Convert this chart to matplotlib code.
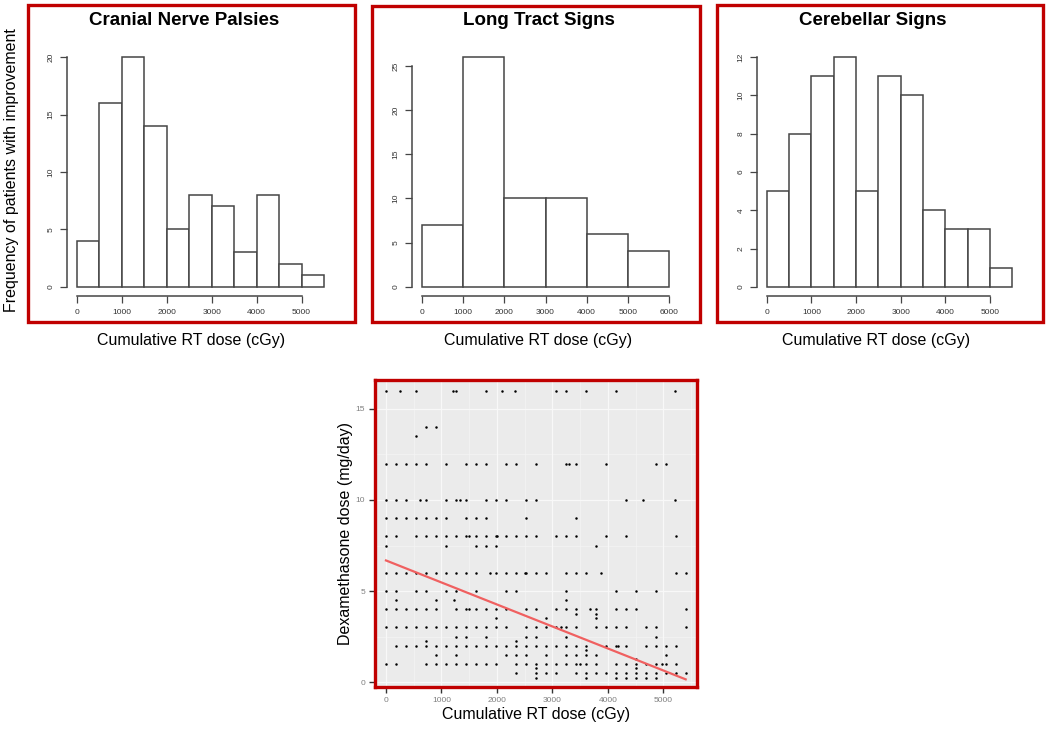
import numpy as np
import matplotlib
matplotlib.use("Agg")
import matplotlib.pyplot as plt
from matplotlib.patches import Rectangle

plt.rcParams['font.family'] = ['Liberation Sans', 'DejaVu Sans']

# --- histogram data (breaks in cGy, counts) ---
cranial_breaks = np.arange(0, 5501, 500)
cranial_counts = [4, 16, 20, 14, 5, 8, 7, 3, 8, 2, 1]

tract_breaks = np.arange(0, 6001, 1000)
tract_counts = [7, 26, 10, 10, 6, 4]

cereb_breaks = np.arange(0, 5501, 500)
cereb_counts = [5, 8, 11, 12, 5, 11, 10, 4, 3, 3, 1]

hist_titles = ["Cranial Nerve Palsies", "Long Tract Signs", "Cerebellar Signs"]

# --- scatter data: cumulative RT dose (cGy) at each dexamethasone level (mg/day) ---
dose_at_16 = [0, 250, 540, 1200, 1270, 1800, 2090, 2330, 3060, 3240, 3600, 4140, 5200]
dose_at_14 = [720, 900]
dose_at_13_5 = [540]
dose_at_12 = [0, 180, 360, 540, 720, 1080, 1440, 1620, 1800, 2160, 2340, 2700, 3240, 3290,
              3420, 3960, 4860, 5040]
dose_at_10 = [0, 180, 360, 610, 720, 1080, 1260, 1340, 1440, 1800, 1980, 2160, 2520, 2700,
              4320, 4640, 5200]
dose_at_9 = [0, 180, 360, 540, 720, 900, 1080, 1440, 1620, 1800, 2520, 3420]
dose_at_8 = [0, 180, 540, 720, 900, 1080, 1260, 1440, 1500, 1620, 1800, 1980, 2000, 2160,
             2340, 2520, 2700, 3060, 3240, 3420, 3960, 4320, 5220]
dose_at_7_5 = [0, 1080, 1620, 1800, 1980, 3780]
dose_at_6 = [0, 180, 360, 540, 720, 900, 1080, 1260, 1440, 1620, 1870, 1980, 2160, 2340,
             2500, 2520, 2700, 2880, 3240, 3420, 3600, 3870, 5220, 5400]
dose_at_5 = [0, 180, 540, 720, 1080, 1260, 1620, 2160, 2340, 3240, 4140, 4500, 4860]
dose_at_4_5 = [180, 900, 1220, 3240]
dose_at_4 = [0, 180, 360, 540, 720, 900, 1260, 1440, 1500, 1620, 1800, 1980, 2160, 2520,
             2700, 3060, 3240, 3420, 3680, 3780, 4140, 4320, 4500, 5400]
dose_at_3_75 = [3420, 3780]
dose_at_3_5 = [1980, 2880, 3780]
dose_at_3 = [0, 180, 360, 540, 720, 900, 1080, 1260, 1440, 1620, 1800, 1980, 2160, 2520,
             2700, 2880, 3060, 3150, 3240, 3420, 3780, 3960, 4140, 4320, 4680, 4860, 5400]
dose_at_2_5 = [1260, 1440, 1800, 2520, 2700, 3240, 4860]
dose_at_2_25 = [720, 2340]
dose_at_2 = [180, 360, 540, 720, 900, 1080, 1260, 1440, 1620, 1800, 1980, 2160, 2340, 2520,
             2700, 2880, 3060, 3240, 3420, 3600, 3960, 4140, 4180, 4320, 4680, 4860, 5040, 5220]
dose_at_1_75 = [3600]
dose_at_1_5 = [900, 1260, 2160, 2340, 2520, 2880, 3240, 3420, 3600, 3780, 5040]
dose_at_1_25 = [4500]
dose_at_1 = [0, 180, 720, 900, 1080, 1260, 1440, 1620, 1800, 1980, 2340, 2520, 2700, 2880,
             3060, 3240, 3420, 3500, 3600, 3780, 4140, 4320, 4500, 4680, 4860, 4970, 5040, 5220]
dose_at_0_75 = [2700, 4500]
dose_at_0_5 = [2340, 2700, 2880, 3060, 3420, 3600, 3780, 3960, 4140, 4320, 4500, 4680, 4860,
               5040, 5220, 5400]
dose_at_0_25 = [2700, 3600, 4140, 4320, 4500, 4680, 4860]

dex_levels = [16, 14, 13.5, 12, 10, 9, 8, 7.5, 6, 5, 4.5, 4, 3.75, 3.5, 3, 2.5, 2.25, 2,
              1.75, 1.5, 1.25, 1, 0.75, 0.5, 0.25]
dose_rows = [dose_at_16, dose_at_14, dose_at_13_5, dose_at_12, dose_at_10, dose_at_9,
             dose_at_8, dose_at_7_5, dose_at_6, dose_at_5, dose_at_4_5, dose_at_4,
             dose_at_3_75, dose_at_3_5, dose_at_3, dose_at_2_5, dose_at_2_25, dose_at_2,
             dose_at_1_75, dose_at_1_5, dose_at_1_25, dose_at_1, dose_at_0_75, dose_at_0_5,
             dose_at_0_25]

# fitted regression line
fit_x = [0, 5400]
fit_y = [6.68, 0.15]

RED = "#C00000"
W, H = 1050, 729
fig = plt.figure(figsize=(W / 100, H / 100), dpi=100)


def px_axes(l, t, r, b):
    return fig.add_axes([l / W, 1 - b / H, (r - l) / W, (b - t) / H])


def frame(l, t, r, b):
    fig.add_artist(Rectangle((l / W, 1 - b / H), (r - l) / W, (b - t) / H,
                             transform=fig.transFigure, fill=False,
                             edgecolor=RED, linewidth=2.4))


def r_hist(ax, breaks, counts, yticks, xticks):
    breaks = np.asarray(breaks)
    ax.bar(breaks[:-1], counts, width=np.diff(breaks), align='edge',
           facecolor='white', edgecolor='#454545', linewidth=1.1)
    span = breaks[-1] - breaks[0]
    top = max(counts)
    ax.set_xlim(breaks[0] - 0.04 * span, breaks[-1] + 0.04 * span)
    ax.set_ylim(-0.04 * top, 1.04 * top)
    for s in ['top', 'right']:
        ax.spines[s].set_visible(False)
    ax.spines['left'].set_bounds(yticks[0], yticks[-1])
    ax.spines['bottom'].set_bounds(xticks[0], xticks[-1])
    for s in ['left', 'bottom']:
        ax.spines[s].set_color('#454545')
        ax.spines[s].set_linewidth(1.1)
    ax.set_xticks(xticks)
    ax.set_yticks(yticks)
    ax.tick_params(length=5, width=0.9, color='#454545', labelsize=6,
                   labelcolor='#333333', pad=4)
    for lbl in ax.get_yticklabels():
        lbl.set_rotation(90)
        lbl.set_va('center')
    ax.patch.set_visible(False)


# --- top row histograms ---
ax1 = px_axes(67, 48, 334, 296)
r_hist(ax1, cranial_breaks, cranial_counts, [0, 5, 10, 15, 20], np.arange(0, 5001, 1000))
ax2 = px_axes(412, 48, 679, 296)
r_hist(ax2, tract_breaks, tract_counts, [0, 5, 10, 15, 20, 25], np.arange(0, 6001, 1000))
ax3 = px_axes(757, 48, 1022, 296)
r_hist(ax3, cereb_breaks, cereb_counts, [0, 2, 4, 6, 8, 10, 12], np.arange(0, 5001, 1000))

frame(28, 5, 355, 322)
frame(372, 6, 700, 322)
frame(717, 5, 1043, 322)

for title, xc in zip(hist_titles, [184, 539, 873]):
    fig.text(xc / W, 1 - 25 / H, title, ha='center', va='baseline',
             fontsize=13.5, fontweight='bold')
for xc in [191, 538, 876]:
    fig.text(xc / W, 1 - 341 / H, "Cumulative RT dose (cGy)", ha='center',
             va='center', fontsize=11.5)
fig.text(12 / W, 1 - 170 / H, "Frequency of patients with improvement", rotation=90,
         ha='center', va='center', fontsize=11.5)

# --- scatter plot (ggplot-like) ---
axs = px_axes(375, 380, 697, 687)
axs.set_facecolor('#EBEBEB')
axs.set_xlim(-198, 5604)
axs.set_ylim(-0.27, 16.59)
for v in range(500, 5600, 1000):
    axs.axvline(v, color='#F5F5F5', lw=0.5, zorder=0)
for v in [2.5, 7.5, 12.5]:
    axs.axhline(v, color='#F5F5F5', lw=0.5, zorder=0)
for v in range(0, 5001, 1000):
    axs.axvline(v, color='#F8F8F8', lw=0.9, zorder=0)
for v in [0, 5, 10, 15]:
    axs.axhline(v, color='#F8F8F8', lw=0.9, zorder=0)

xs = np.concatenate([np.asarray(r, dtype=float) for r in dose_rows])
ys = np.concatenate([np.full(len(r), lvl, dtype=float) for r, lvl in zip(dose_rows, dex_levels)])
axs.scatter(xs, ys, s=3.2, color='black', linewidths=0, zorder=3)
axs.plot(fit_x, fit_y, color='#F06060', lw=1.6, zorder=4)

axs.set_xticks(np.arange(0, 5001, 1000))
axs.set_yticks([0, 5, 10, 15])
axs.tick_params(length=4, width=1.0, color='#333333', labelsize=6,
                labelcolor='#7f7f7f', pad=3)
for s in axs.spines.values():
    s.set_color(RED)
    s.set_linewidth(2.4)
axs.set_xlabel("Cumulative RT dose (cGy)", fontsize=11.5, labelpad=2)
axs.set_ylabel("Dexamethasone dose (mg/day)", fontsize=11.5, labelpad=2)

fig.savefig("out.png", dpi=100)
